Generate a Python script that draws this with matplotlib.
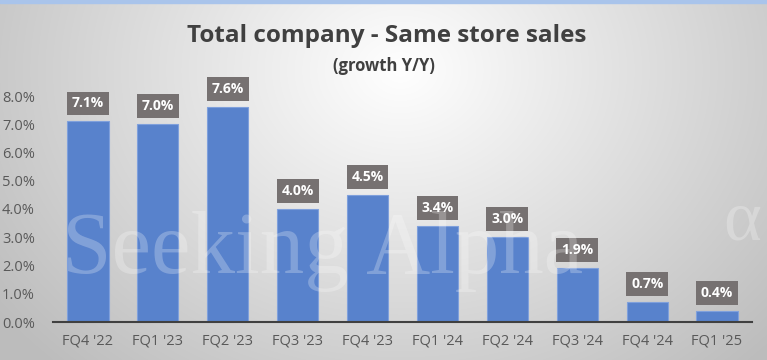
import numpy as np
import matplotlib
matplotlib.use('Agg')
import matplotlib.pyplot as plt

quarters = ["FQ4 '22", "FQ1 '23", "FQ2 '23", "FQ3 '23", "FQ4 '23",
            "FQ1 '24", "FQ2 '24", "FQ3 '24", "FQ4 '24", "FQ1 '25"]
growth = [7.1, 7.0, 7.6, 4.0, 4.5, 3.4, 3.0, 1.9, 0.7, 0.4]
yticks = [0, 1, 2, 3, 4, 5, 6, 7, 8]

plt.rcParams['font.family'] = ['Open Sans', 'DejaVu Sans']

W, H = 767, 360
fig = plt.figure(figsize=(W/100, H/100), dpi=100)

# background : radial grey gradient, light at top centre
bg = fig.add_axes([0, 0, 1, 1])
yy, xx = np.mgrid[0:H, 0:W]
d = np.sqrt(((xx-400)/520.)**2 + ((yy-70)/420.)**2)
g = np.clip(1.0 - 0.27*d, 0.74, 1.0)
bg.imshow(np.dstack([g, g, g]), extent=[0, W, H, 0], aspect='auto')
bg.add_patch(plt.Rectangle((0, 0), W, 3, color='#a9c4eb'))
bg.set_xlim(0, W); bg.set_ylim(H, 0)
bg.axis('off')

bg.text(W/2 + 3, 36, 'Total company - Same store sales', ha='center', va='center',
        fontsize=17.5, fontweight='bold', color='#404040')
bg.text(W/2, 66, '(growth Y/Y)', ha='center', va='center',
        fontsize=12, fontweight='bold', color='#404040')

ax = fig.add_axes([53/W, 1-322/H, (752-53)/W, (322-96)/H])
ax.patch.set_alpha(0)
x = np.arange(len(quarters))
ax.bar(x, growth, width=0.59, color='#5882cc', edgecolor='#7fa0dc', linewidth=0.8, zorder=2)

for xi, v in zip(x, growth):
    ax.annotate(f'{v:.1f}%', (xi, v), xytext=(0, 13), textcoords='offset points',
                ha='center', va='center', fontsize=10, fontweight='bold', color='white',
                bbox=dict(boxstyle='square,pad=0.35', fc='#767171', ec='none'), zorder=4)

ax.set_xlim(-0.5, 9.5)
ax.set_ylim(0, 8)
ax.set_yticks(yticks)
ax.set_yticklabels([f'{t:.1f}%' for t in yticks])
ax.set_xticks(x)
ax.set_xticklabels(quarters)
ax.tick_params(length=0, labelsize=10.5, colors='#595959', pad=8)
ax.tick_params(axis='y', pad=13)
for s in ['top', 'right', 'left']:
    ax.spines[s].set_visible(False)
ax.spines['bottom'].set_color('#404040')
ax.spines['bottom'].set_linewidth(1.5)

# watermark on top of everything
fig.text(62/W, 1-252/H, 'Seeking Alpha', ha='left', va='center', fontsize=64,
         family='Liberation Serif', color='white', alpha=0.25, zorder=10)
fig.text(742/W, 1-222/H, '\u03b1', ha='center', va='center', fontsize=52,
         family='Liberation Serif', color='white', alpha=0.25, zorder=10)

fig.savefig('out.png', dpi=100)
